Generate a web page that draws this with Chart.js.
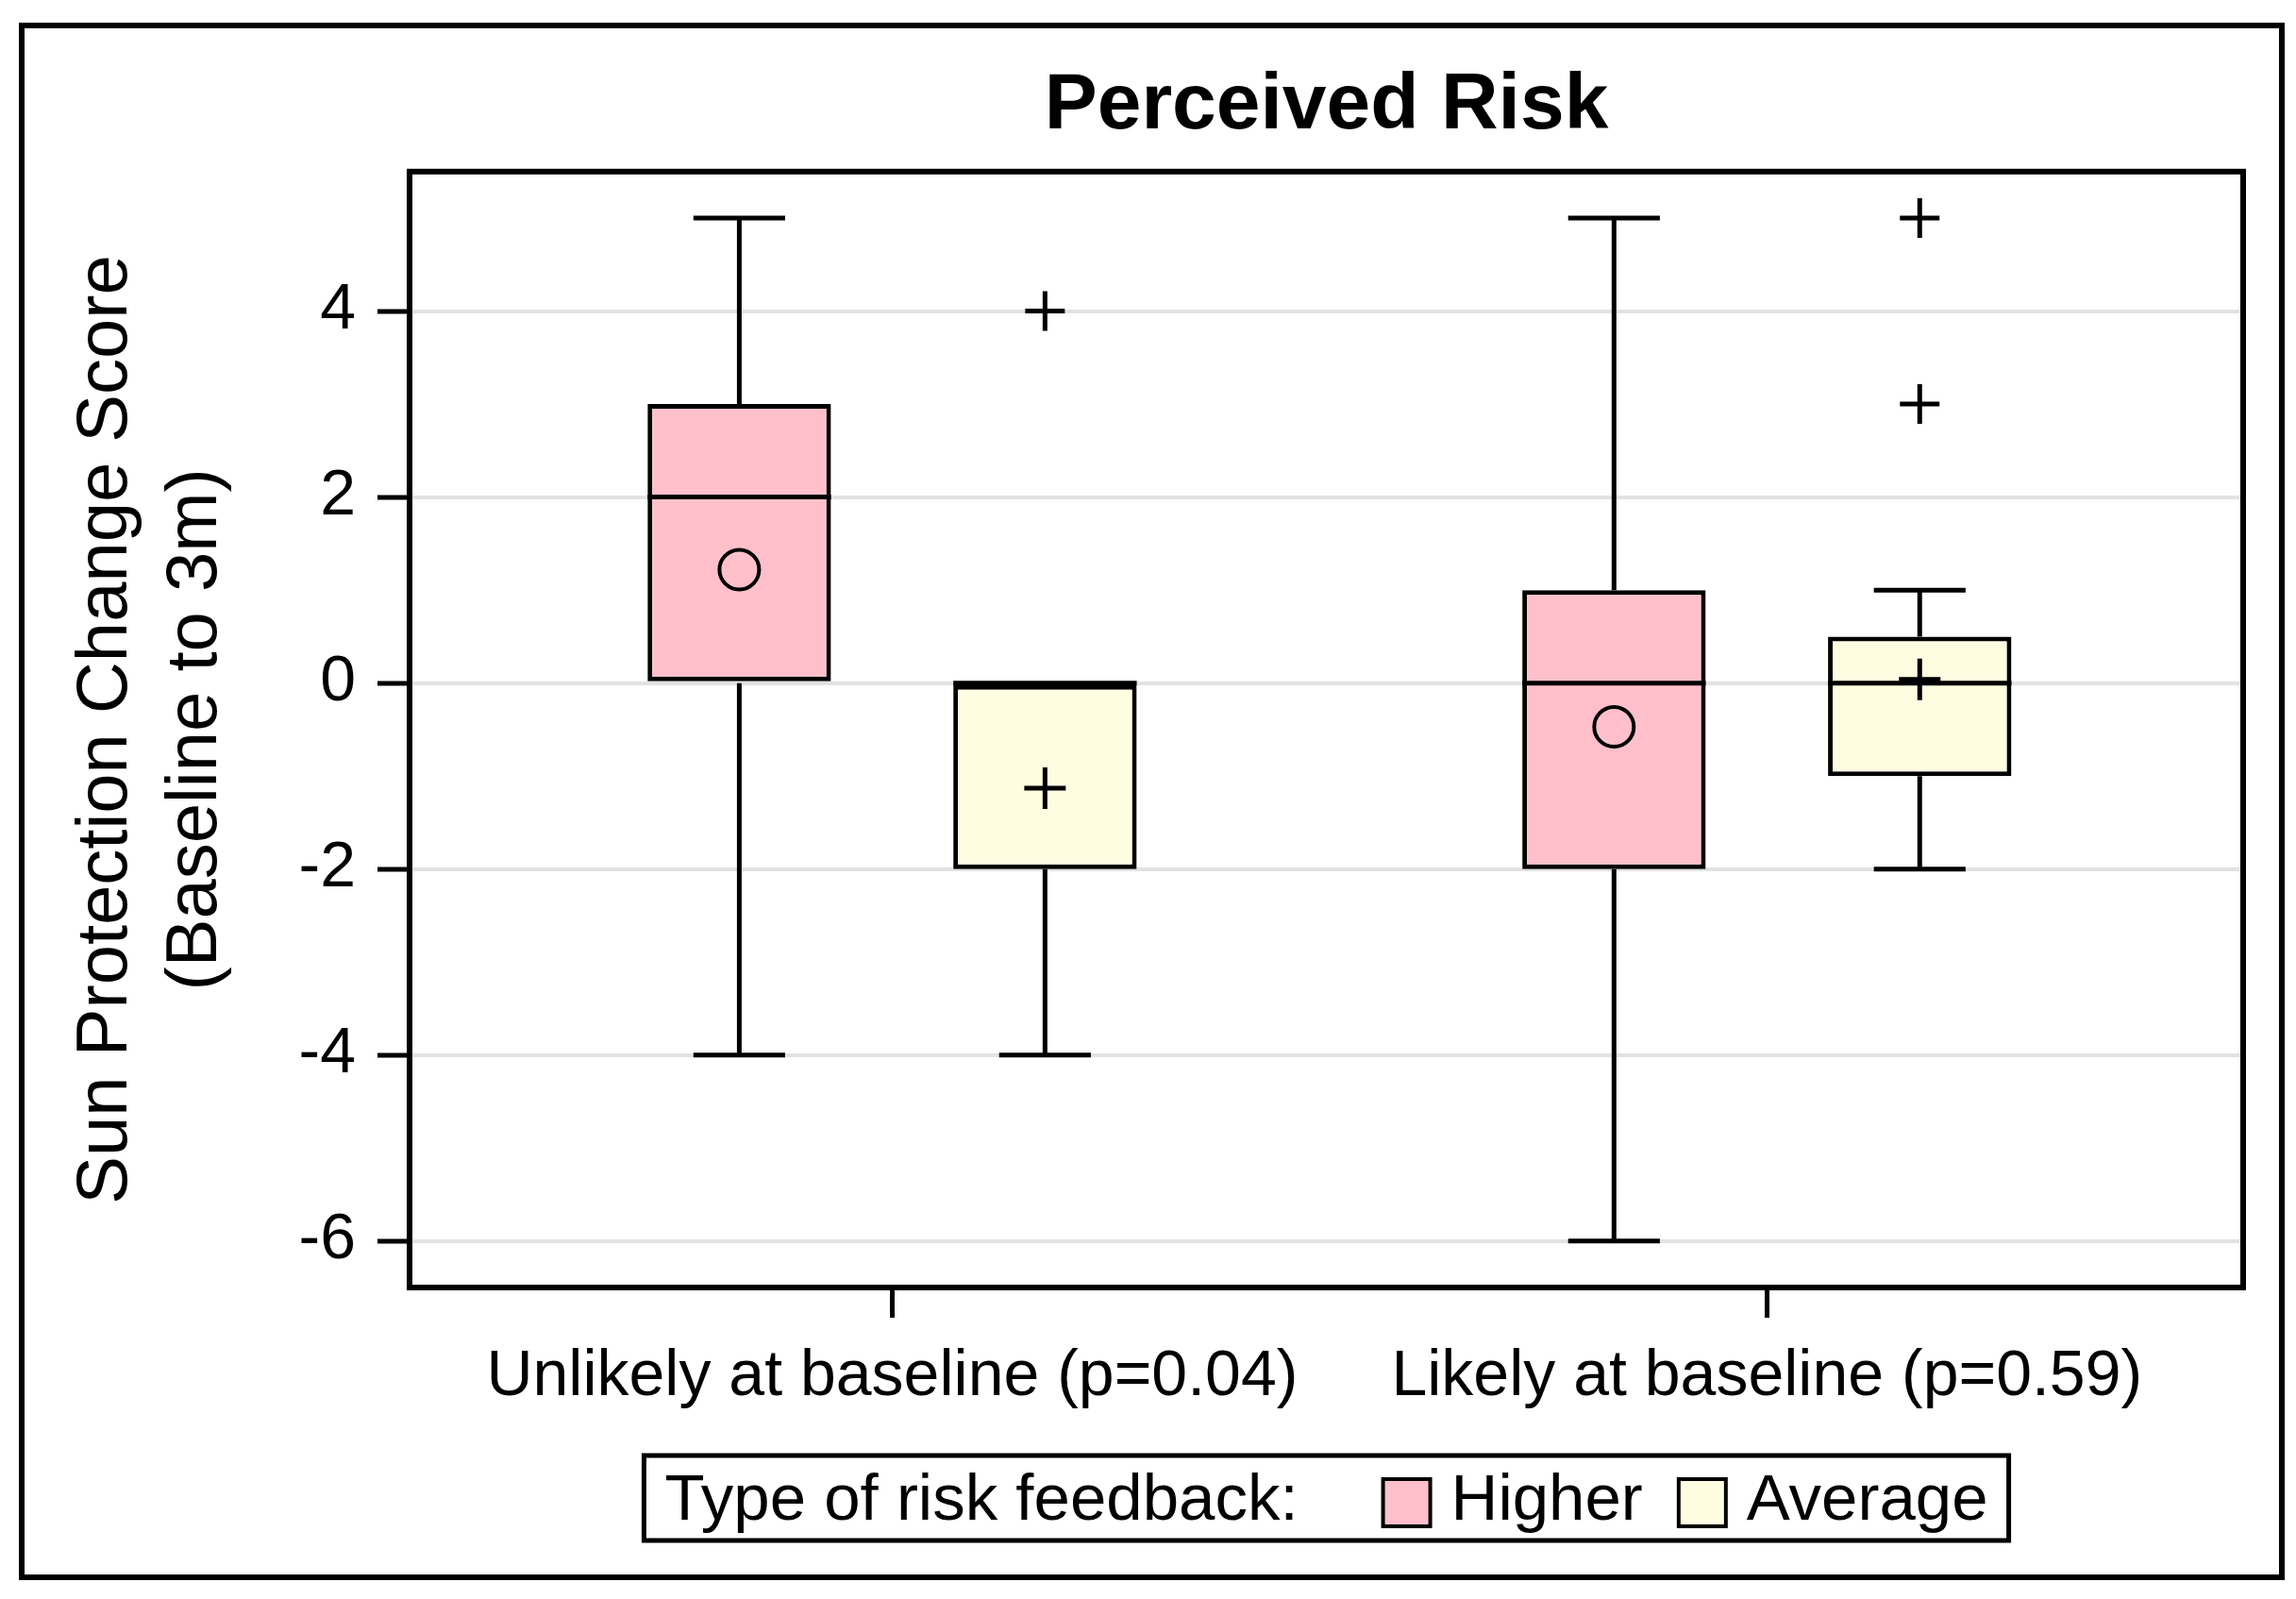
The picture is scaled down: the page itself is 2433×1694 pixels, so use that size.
<!DOCTYPE html>
<html>
<head>
<meta charset="utf-8">
<title>Perceived Risk</title>
<script src="https://cdn.jsdelivr.net/npm/chart.js@4/dist/chart.umd.min.js"></script>
<style>
  html, body { margin: 0; padding: 0; background: #fff; }
  canvas { display: block; }
</style>
</head>
<body>
<canvas id="myChart" width="2433" height="1694"></canvas>
<script>
// categories and series
const groups = ['Unlikely at baseline (p=0.04)', 'Likely at baseline (p=0.59)']
const seriesNames = ['Higher', 'Average']
const legendTitle = 'Type of risk feedback:'

// box summaries, one value per group
const higherMin = [-4, -6]
const higherQ1 = [0, -2]
const higherMedian = [2, 0]
const higherQ3 = [3, 1]
const higherMax = [5, 5]
const higherMean = [1.22, -0.47]
const higherOutliers = [[], []]

const averageMin = [-4, -2]
const averageQ1 = [-2, -1]
const averageMedian = [0, 0]
const averageQ3 = [0, 0.5]
const averageMax = [0, 1]
const averageMean = [-1.13, 0.04]
const averageOutliers = [[4], [3, 5]]

const yTicks = [-6, -4, -2, 0, 2, 4]

const fontFamily = '"Liberation Sans", Arial, sans-serif'
const groupPct = 0.699
const boxPct = 0.6
const slot = groupPct / 4   // distance of each box from the group centre, in axis units

Chart.defaults.font.family = fontFamily
Chart.defaults.color = '#000'

function boxData(q1, q3) {
  return groups.map((g, i) => ({x: i, y: [q1[i], q3[i]]}))
}
function pointData(values, side) {
  return values.map((v, i) => ({x: i + side * slot, y: v}))
}
function outlierData(lists, side) {
  let pts = []
  lists.forEach((list, i) => list.forEach(v => pts.push({x: i + side * slot, y: v})))
  return pts
}

// whiskers, caps and median line on top of each box
const whiskers = {
  id: 'whiskers',
  afterDatasetDraw(chart, args) {
    const ds = chart.data.datasets[args.index]
    if (!ds.box) return
    const ctx = chart.ctx
    const y = chart.scales.y
    ctx.save()
    ctx.strokeStyle = '#000'
    ctx.lineWidth = 5
    args.meta.data.forEach((bar, i) => {
      const half = bar.width / 2
      const yMin = y.getPixelForValue(ds.box.min[i])
      const yMax = y.getPixelForValue(ds.box.max[i])
      const yQ1 = y.getPixelForValue(ds.box.q1[i])
      const yQ3 = y.getPixelForValue(ds.box.q3[i])
      const yMed = y.getPixelForValue(ds.box.median[i])
      ctx.beginPath()
      if (ds.box.max[i] > ds.box.q3[i]) {
        ctx.moveTo(bar.x, yQ3); ctx.lineTo(bar.x, yMax)
        ctx.moveTo(bar.x - half / 2, yMax); ctx.lineTo(bar.x + half / 2, yMax)
      }
      if (ds.box.min[i] < ds.box.q1[i]) {
        ctx.moveTo(bar.x, yQ1); ctx.lineTo(bar.x, yMin)
        ctx.moveTo(bar.x - half / 2, yMin); ctx.lineTo(bar.x + half / 2, yMin)
      }
      ctx.moveTo(bar.x - half, yMed); ctx.lineTo(bar.x + half, yMed)
      ctx.stroke()
    })
    ctx.restore()
  }
}

// white page, outer frame, plot frame
const frames = {
  id: 'frames',
  beforeDraw(chart) {
    const ctx = chart.ctx
    ctx.save()
    ctx.fillStyle = '#fff'
    ctx.fillRect(0, 0, chart.width, chart.height)
    ctx.restore()
  },
  afterDraw(chart) {
    const ctx = chart.ctx, ca = chart.chartArea
    ctx.save()
    ctx.strokeStyle = '#000'
    ctx.lineWidth = 6
    ctx.strokeRect(ca.left, ca.top, ca.right - ca.left, ca.bottom - ca.top)
    ctx.strokeRect(23, 27, chart.width - 23 - 15, chart.height - 27 - 23)
    ctx.restore()
  }
}

// legend in one row with its title in front
const legendBox = {
  id: 'legendBox',
  afterDraw(chart) {
    const ctx = chart.ctx, ca = chart.chartArea
    const sets = chart.data.datasets.filter(d => d.box)
    ctx.save()
    ctx.font = '69px ' + fontFamily
    const tw = ctx.measureText(legendTitle).width
    const widths = sets.map(d => ctx.measureText(d.label).width)
    const padX = 22, sw = 50, swGap = 22, titleGap = 90, itemGap = 38, h = 90
    const total = padX * 2 + tw + titleGap + sets.length * (sw + swGap) + widths.reduce((a, b) => a + b, 0) + itemGap * (sets.length - 1)
    const left = (ca.left + ca.right) / 2 - total / 2
    const top = ca.bottom + 178
    ctx.strokeStyle = '#000'
    ctx.lineWidth = 5
    ctx.strokeRect(left, top, total, h)
    ctx.fillStyle = '#000'
    ctx.textBaseline = 'alphabetic'
    let x = left + padX
    ctx.fillText(legendTitle, x, top + 68)
    x += tw + titleGap
    sets.forEach((ds, i) => {
      ctx.fillStyle = ds.backgroundColor
      ctx.fillRect(x, top + 25, sw, sw)
      ctx.lineWidth = 4
      ctx.strokeRect(x, top + 25, sw, sw)
      x += sw + swGap
      ctx.fillStyle = '#000'
      ctx.fillText(ds.label, x, top + 68)
      x += widths[i] + itemGap
    })
    ctx.restore()
  }
}

const data = {
  datasets: [
    {
      type: 'bar',
      label: seriesNames[0],
      order: 2,
      data: boxData(higherQ1, higherQ3),
      box: {min: higherMin, q1: higherQ1, median: higherMedian, q3: higherQ3, max: higherMax},
      backgroundColor: '#FFC0CB',
      borderColor: '#000',
      borderWidth: 5,
      borderSkipped: false,
      categoryPercentage: groupPct,
      barPercentage: boxPct
    },
    {
      type: 'bar',
      label: seriesNames[1],
      order: 2,
      data: boxData(averageQ1, averageQ3),
      box: {min: averageMin, q1: averageQ1, median: averageMedian, q3: averageQ3, max: averageMax},
      backgroundColor: '#FFFDE1',
      borderColor: '#000',
      borderWidth: 5,
      borderSkipped: false,
      categoryPercentage: groupPct,
      barPercentage: boxPct
    },
    {
      type: 'scatter',
      label: 'Higher mean',
      order: 1,
      data: pointData(higherMean, -1),
      pointStyle: 'circle',
      pointRadius: 21,
      borderWidth: 4,
      borderColor: '#000',
      backgroundColor: 'rgba(0,0,0,0)'
    },
    {
      type: 'scatter',
      label: 'Average mean',
      order: 1,
      data: pointData(averageMean, 1),
      pointStyle: 'cross',
      pointRadius: 22,
      borderWidth: 5,
      borderColor: '#000'
    },
    {
      type: 'scatter',
      label: 'Higher outliers',
      order: 1,
      data: outlierData(higherOutliers, -1),
      pointStyle: 'cross',
      pointRadius: 21,
      borderWidth: 5,
      borderColor: '#000'
    },
    {
      type: 'scatter',
      label: 'Average outliers',
      order: 1,
      data: outlierData(averageOutliers, 1),
      pointStyle: 'cross',
      pointRadius: 21,
      borderWidth: 5,
      borderColor: '#000'
    }
  ]
}

const ctx = document.getElementById('myChart')
const myChart = new Chart(ctx, {
  type: 'bar',
  data: data,
  plugins: [frames, whiskers, legendBox],
  options: {
    responsive: false,
    devicePixelRatio: 1,
    animation: false,
    events: [],
    layout: {padding: {left: 30, right: 56, top: 0, bottom: 190}},
    plugins: {
      legend: {display: false},
      tooltip: {enabled: false},
      title: {
        display: true,
        text: 'Perceived Risk',
        fullSize: false,
        font: {size: 84, weight: 'bold'},
        padding: {top: 62, bottom: 19}
      }
    },
    scales: {
      x: {
        type: 'linear',
        offset: false,
        min: -0.5517,
        max: 1.5445,
        afterBuildTicks: (scale) => { scale.ticks = groups.map((g, i) => ({value: i})) },
        afterFit: (scale) => { scale.height = 140 },
        ticks: {
          callback: (v) => groups[v],
          font: {size: 68},
          padding: 22,
          maxRotation: 0,
          autoSkip: false
        },
        grid: {
          offset: false,
          drawOnChartArea: false,
          tickLength: 32,
          tickColor: '#000',
          tickWidth: 5
        },
        border: {display: false}
      },
      y: {
        type: 'linear',
        min: -6.5,
        max: 5.5,
        afterBuildTicks: (scale) => { scale.ticks = yTicks.map(v => ({value: v})) },
        afterFit: (scale) => { scale.width = 404 },
        ticks: {
          font: {size: 68},
          padding: 23
        },
        grid: {
          color: '#e2e2e2',
          lineWidth: 4,
          tickLength: 34,
          tickColor: '#000',
          tickWidth: 5
        },
        border: {display: false},
        title: {
          display: true,
          text: ['Sun Protection Change Score', '(Baseline to 3m)'],
          font: {size: 76, lineHeight: 1.25},
          padding: {top: 36, bottom: 0}
        }
      }
    }
  }
})
</script>
</body>
</html>
